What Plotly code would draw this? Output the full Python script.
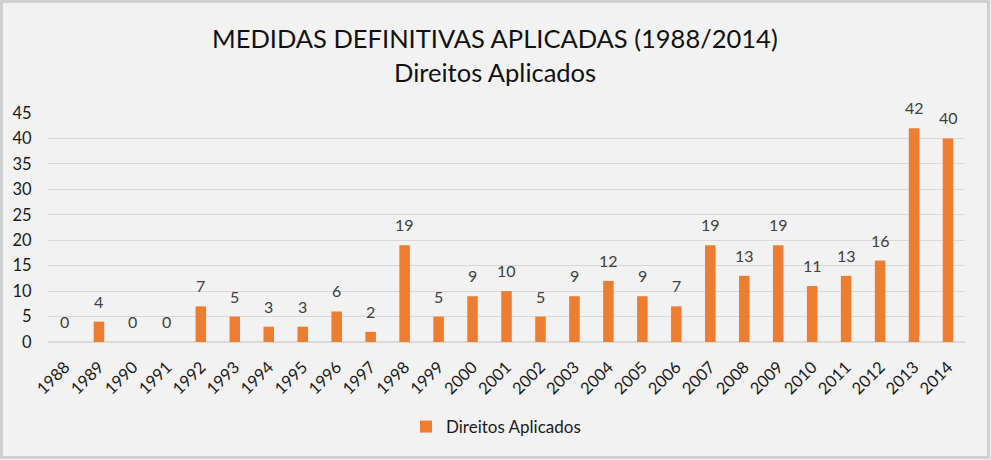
import plotly.graph_objects as go

years = [str(y) for y in range(1988, 2015)]
direitos = [0, 4, 0, 0, 7, 5, 3, 3, 6, 2, 19, 5, 9, 10, 5, 9, 12, 9, 7, 19, 13, 19, 11, 13, 16, 42, 40]
yticks = [0, 5, 10, 15, 20, 25, 30, 35, 40, 45]
title1 = "MEDIDAS DEFINITIVAS APLICADAS (1988/2014)"
title2 = "Direitos Aplicados"

FONT = "Lato"
L, R, T, B = 48, 26, 113, 118
W, H = 991, 460
pw, ph = W - L - R, H - T - B

def py(p):
    return (H - B - p) / ph

def px(p):
    return (p - L) / pw

fig = go.Figure()
fig.add_trace(go.Bar(
    x=years, y=direitos, name="Direitos Aplicados",
    marker=dict(color="#ED7D31", line=dict(width=0)),
))

annots = [dict(x=i, y=v, xref="x", yref="y", text=str(v), showarrow=False,
               yanchor="bottom", yshift=9,
               font=dict(family=FONT, size=16, color="#404040"))
          for i, v in enumerate(direitos)]
annots += [
    dict(x=px(495), y=py(38), xref="paper", yref="paper", text=title1, showarrow=False,
         xanchor="center", yanchor="middle", font=dict(family=FONT, size=25.5, color="#111111")),
    dict(x=px(495), y=py(72), xref="paper", yref="paper", text=title2, showarrow=False,
         xanchor="center", yanchor="middle", font=dict(family=FONT, size=25.5, color="#111111")),
]

fig.update_layout(
    width=W, height=H,
    margin=dict(l=L, r=R, t=T, b=B, pad=0),
    paper_bgcolor="#F2F2F2", plot_bgcolor="#F2F2F2",
    bargap=0.69,
    xaxis=dict(type="category", categoryorder="array", categoryarray=years,
               range=[-0.5, len(years) - 0.5],
               tickangle=-45, showgrid=False, showline=False,
               ticks="outside", ticklen=8, tickcolor="rgba(0,0,0,0)", automargin=False,
               tickfont=dict(family=FONT, size=16.5, color="#1a1a1a")),
    yaxis=dict(range=[0, 45], tickvals=yticks, showgrid=True, gridcolor="#D9D9D9", gridwidth=1,
               zeroline=True, zerolinecolor="#D9D9D9", showline=False,
               ticks="outside", ticklen=12, tickcolor="rgba(0,0,0,0)", automargin=False,
               tickfont=dict(family=FONT, size=16.5, color="#1a1a1a")),
    showlegend=True,
    legend=dict(orientation="h", x=px(496), xanchor="center", y=py(427), yanchor="middle",
                itemwidth=30, font=dict(family=FONT, size=17, color="#1a1a1a"),
                bgcolor="rgba(0,0,0,0)"),
    annotations=annots,
    shapes=[dict(type="rect", xref="paper", yref="paper", layer="above",
                 x0=px(1.5), x1=px(W - 2.5), y0=py(H - 2.5), y1=py(1.5),
                 line=dict(color="#D0D0D0", width=3), fillcolor="rgba(0,0,0,0)")],
)
fig.write_html("out.html", config={"displayModeBar": False},
               post_script="document.body.style.margin='0';")
